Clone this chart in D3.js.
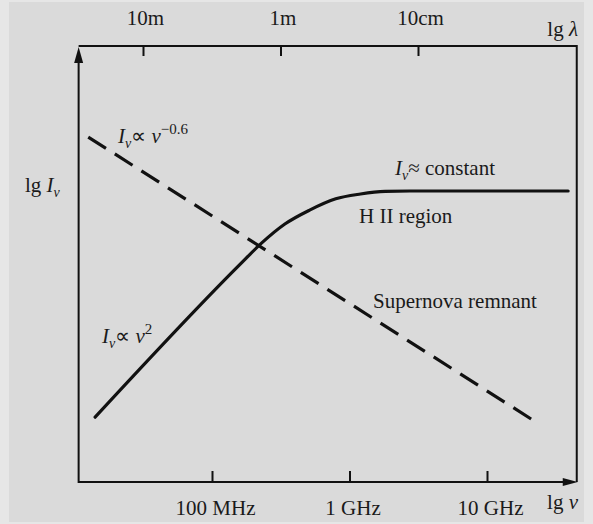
<!DOCTYPE html>
<html>
<head>
<meta charset="utf-8">
<script src="https://cdn.jsdelivr.net/npm/d3@7"></script>
<style>
  html, body { margin: 0; padding: 0; background: #e4e4e4; }
  svg { display: block; }
  text { font-family: "Liberation Serif", "Times New Roman", serif; fill: #1a1a1a; }
</style>
</head>
<body>
<svg id="chart" width="593" height="524"></svg>
<script>
// ---- data (lg ν in Hz, lg I_ν in arbitrary units) ----
const nuTicks = [8, 9, 10];
const nuTickLabels = ["100 MHz", "1 GHz", "10 GHz"];
const lambdaTicks = [1, 0, -1];            // lg λ (metres)
const lambdaTickLabels = ["10m", "1m", "10cm"];

// Supernova remnant: I ∝ ν^-0.6 (dashed)
const snrNu = [7.10, 10.33];
const snrI  = [7.93, 1.43];

// H II region: I ∝ ν^2 then flat (solid)
const hiiNu = [7.15, 8.20, 8.36, 8.53, 8.71, 8.90, 9.08, 9.26, 9.44, 10.59];
const hiiI  = [1.49, 4.99, 5.49, 5.93, 6.25, 6.51, 6.62, 6.68, 6.69, 6.69];

const nuDomain = [7.03, 10.66];     // lg ν extent of the plotting frame
const lgIDomain = [0, 10];

// ---- layout ----
const svg = d3.select("#chart");
const W = 593, H = 524;

svg.append("rect").attr("x", 0).attr("y", 0).attr("width", W).attr("height", H).attr("fill", "#e6e6e6");
svg.append("rect").attr("x", 9).attr("y", 2).attr("width", 575).attr("height", 520).attr("fill", "#dadada");

const x = d3.scaleLinear().domain([8, 10]).range([212, 487]);
const xTop = d3.scaleLinear().domain([1, -1]).range([143, 418]);
const y = d3.scaleLinear().domain(lgIDomain).range([482, 47]);

const x0 = x(nuDomain[0]), x1 = x(nuDomain[1]);
const yTopFrame = 46, yBot = y(0);
const ink = "#111";

// frame: top & right lines
svg.append("path")
  .attr("d", `M${x0},${yTopFrame}H${x1 - 1}V${yBot}`)
  .attr("fill", "none").attr("stroke", ink).attr("stroke-width", 2);

// bottom axis (lg ν)
const bottomAxis = d3.axisBottom(x).tickValues(nuTicks).tickFormat((d, i) => nuTickLabels[i]).tickSizeOuter(0).tickSizeInner(-11).tickPadding(18);
const gB = svg.append("g").attr("transform", `translate(0,${yBot})`).call(bottomAxis);
gB.select(".domain").remove();
gB.selectAll(".tick line").attr("stroke", ink).attr("stroke-width", 2);
gB.selectAll(".tick text").attr("font-size", 21).attr("fill", "#1a1a1a")
  .attr("font-family", "Liberation Serif").attr("dx", 3);
svg.append("line").attr("x1", x0).attr("x2", x1 - 12).attr("y1", yBot).attr("y2", yBot)
  .attr("stroke", ink).attr("stroke-width", 2);
svg.append("path").attr("d", `M${x1},${yBot}L${x1 - 15},${yBot - 4}L${x1 - 15},${yBot + 4}Z`).attr("fill", ink);

// top axis (lg λ)
const topAxis = d3.axisTop(xTop).tickValues(lambdaTicks).tickFormat((d, i) => lambdaTickLabels[i]).tickSizeOuter(0).tickSizeInner(-10).tickPadding(21);
const gT = svg.append("g").attr("transform", `translate(0,${yTopFrame})`).call(topAxis);
gT.select(".domain").remove();
gT.selectAll(".tick line").attr("stroke", ink).attr("stroke-width", 2);
gT.selectAll(".tick text").attr("font-size", 21).attr("fill", "#1a1a1a")
  .attr("font-family", "Liberation Serif").attr("dx", 2);

// left axis (lg I)
svg.append("line").attr("x1", x0).attr("x2", x0).attr("y1", yBot + 1).attr("y2", 60)
  .attr("stroke", ink).attr("stroke-width", 2);
svg.append("path").attr("d", `M${x0},${47}L${x0 - 4.5},${63}L${x0 + 4.5},${63}Z`).attr("fill", ink);

// axis titles
function label(xp, yp, anchor, parts) {
  const t = svg.append("text").attr("x", xp).attr("y", yp).attr("text-anchor", anchor).attr("font-size", 21);
  parts.forEach(p => {
    const ts = t.append("tspan").text(p.t);
    if (p.i) ts.attr("font-style", "italic");
    if (p.sub) ts.attr("font-size", 14).attr("dy", 5);
    if (p.sup) ts.attr("font-size", 15).attr("dy", -9);
    if (p.back) ts.attr("dy", p.back);
  });
  return t;
}
label(578, 509, "end", [{t: "lg "}, {t: "ν", i: true}]);
label(578, 36, "end", [{t: "lg "}, {t: "λ", i: true}]);
label(25, 192, "start", [{t: "lg "}, {t: "I", i: true}, {t: "ν", i: true, sub: true}]);

// curves
const line = d3.line().x(d => x(d[0])).y(d => y(d[1]));
svg.append("path")
  .datum(snrNu.map((v, i) => [v, snrI[i]]))
  .attr("d", line).attr("fill", "none").attr("stroke", ink).attr("stroke-width", 3.2)
  .attr("stroke-dasharray", "21,10.5");
svg.append("path")
  .datum(hiiNu.map((v, i) => [v, hiiI[i]]))
  .attr("d", line.curve(d3.curveMonotoneX)).attr("fill", "none").attr("stroke", ink)
  .attr("stroke-width", 3.2).attr("stroke-linecap", "round");

// annotations
label(118, 143, "start", [{t: "I", i: true}, {t: "ν", i: true, sub: true}, {t: "∝ ", back: -5}, {t: "ν", i: true}, {t: "−0.6", sup: true}]);
label(395, 175, "start", [{t: "I", i: true}, {t: "ν", i: true, sub: true}, {t: "≈ constant", back: -5}]);
label(359, 223, "start", [{t: "H II region"}]);
label(373, 308, "start", [{t: "Supernova remnant"}]);
label(102, 343, "start", [{t: "I", i: true}, {t: "ν", i: true, sub: true}, {t: "∝ ", back: -5}, {t: "ν", i: true}, {t: "2", sup: true}]);
</script>
</body>
</html>
